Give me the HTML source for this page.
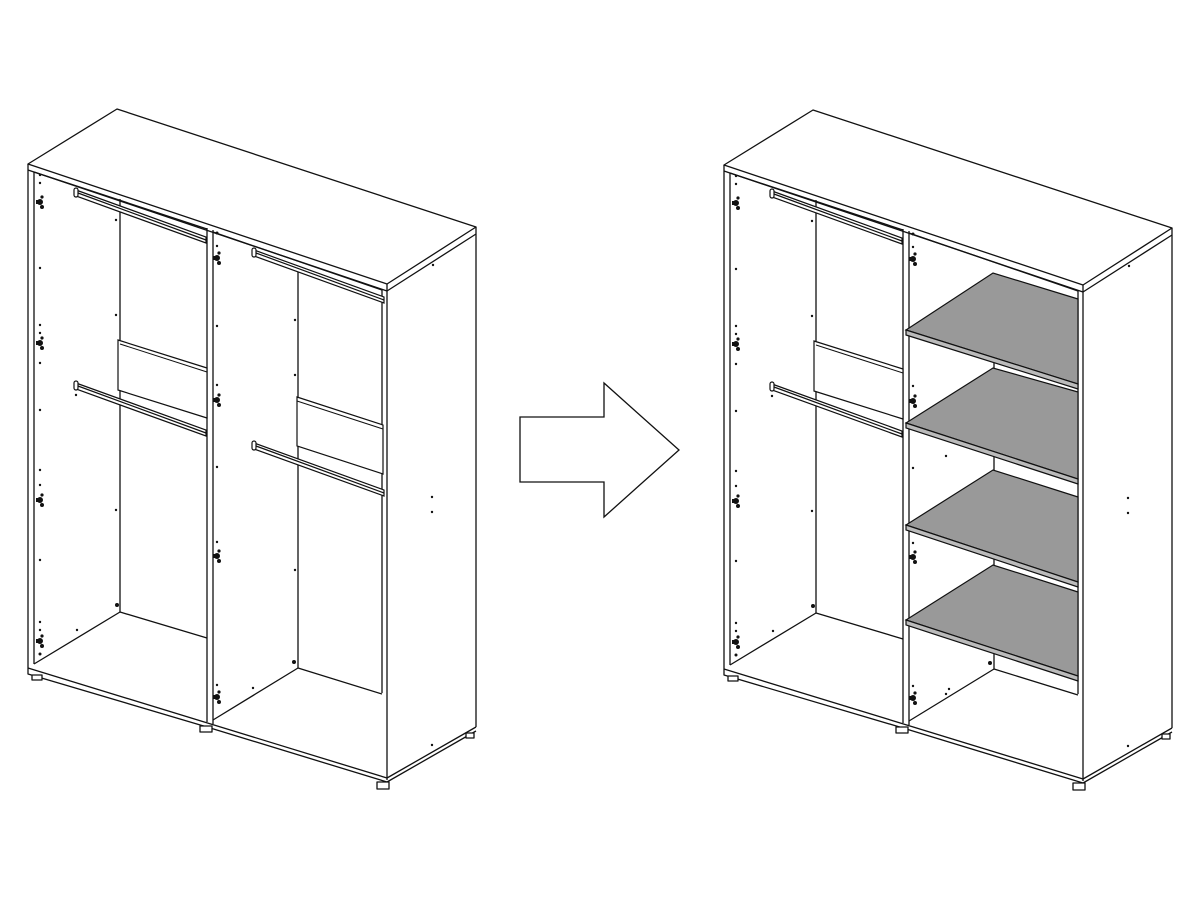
<!DOCTYPE html>
<html><head><meta charset="utf-8"><style>html,body{margin:0;padding:0;background:#fff}svg{display:block}</style></head><body>
<svg width="1200" height="900" viewBox="0 0 1200 900" xmlns="http://www.w3.org/2000/svg">
<defs>
<g id="base" fill="none" stroke="#111" stroke-width="1.3" stroke-linejoin="round">
  <!-- top -->
  <polygon points="28,164 117,109 476,227 387,284" fill="#fff"/>
  <line x1="28" y1="170" x2="387" y2="291"/>
  <line x1="387" y1="291" x2="476" y2="234"/>
  <!-- left side panel -->
  <line x1="28" y1="164" x2="28" y2="668"/>
  <line x1="34" y1="172" x2="34" y2="664"/>
  <!-- right side -->
  <line x1="387" y1="284" x2="387" y2="780"/>
  <line x1="382" y1="290" x2="382" y2="693"/>
  <line x1="476" y1="227" x2="476" y2="727"/>
  <!-- bottom plinth -->
  <polyline points="28,668 28,674 207,727 387,782"/>
  <line x1="28" y1="668" x2="387" y2="778"/>
  <line x1="387" y1="782" x2="476" y2="731"/>
  <line x1="387" y1="778" x2="476" y2="727"/>
  <!-- feet -->
  <rect x="32" y="675" width="10" height="5" fill="#fff"/>
  <rect x="200" y="726" width="12" height="6" fill="#fff"/>
  <rect x="377" y="782" width="12" height="7" fill="#fff"/>
  <rect x="466" y="733" width="8" height="5" fill="#fff"/>
  <!-- middle divider -->
  <line x1="207" y1="228" x2="207" y2="722"/>
  <line x1="213" y1="230" x2="213" y2="724"/>
  <!-- left compartment -->
  <line x1="120" y1="199" x2="120" y2="612"/>
  <line x1="120" y1="612" x2="34" y2="664"/>
  <line x1="120" y1="612" x2="207" y2="638"/>
  <line x1="34" y1="172" x2="207" y2="229"/>
</g>
<g id="hinge" fill="#111">
  <circle cx="0" cy="0" r="3"/><rect x="-4" y="-2" width="4" height="4"/><circle cx="2" cy="5" r="2"/><circle cx="2" cy="-5" r="1.6"/>
</g>
<g id="rail" fill="#fff" stroke="#111" stroke-width="1.2">
  <polygon points="0,0 130,47 130,53 0,6"/>
  <line x1="2" y1="3" x2="130" y2="50"/>
  <rect x="-2" y="-2" width="4" height="9" rx="2"/>
</g>
<g id="dots" fill="#111">
  <circle cx="40" cy="175" r="1.2"/><circle cx="40" cy="183" r="1.2"/><circle cx="40" cy="268" r="1.2"/><circle cx="40" cy="325" r="1.2"/><circle cx="40" cy="333" r="1.2"/><circle cx="40" cy="363" r="1.2"/><circle cx="40" cy="410" r="1.2"/><circle cx="40" cy="470" r="1.2"/><circle cx="40" cy="485" r="1.2"/><circle cx="40" cy="560" r="1.2"/><circle cx="40" cy="622" r="1.2"/><circle cx="40" cy="630" r="1.2"/><circle cx="40" cy="654" r="1.5"/>
  <circle cx="116" cy="220" r="1.2"/><circle cx="116" cy="315" r="1.2"/><circle cx="116" cy="510" r="1.2"/><circle cx="117" cy="605" r="2"/><circle cx="77" cy="630" r="1.2"/>
  <circle cx="76" cy="395" r="1.2"/>
</g>
<g id="wardrobe">
  <use href="#base"/>
  <use href="#dots"/>
  <use href="#hinge" x="40" y="202"/><use href="#hinge" x="40" y="343"/><use href="#hinge" x="40" y="500"/><use href="#hinge" x="40" y="641"/>
  <use href="#hinge" x="217" y="258"/><use href="#hinge" x="217" y="400"/><use href="#hinge" x="217" y="556"/><use href="#hinge" x="217" y="697"/>
  <g fill="#111"><circle cx="217" cy="233" r="1.5"/><circle cx="217" cy="246" r="1.2"/><circle cx="217" cy="326" r="1.2"/><circle cx="217" cy="385" r="1.2"/><circle cx="217" cy="467" r="1.2"/><circle cx="217" cy="542" r="1.2"/><circle cx="217" cy="685" r="1.2"/><circle cx="253" cy="688" r="1.2"/><circle cx="433" cy="265" r="1.2"/><circle cx="432" cy="497" r="1.2"/><circle cx="432" cy="512" r="1.2"/><circle cx="432" cy="745" r="1.2"/></g>
  <!-- left compartment drawer box and rails -->
  <polygon points="118,340 207,368 207,418 118,390" fill="#fff" stroke="#111" stroke-width="1.2"/>
  <line x1="120" y1="344" x2="207" y2="372" stroke="#111" stroke-width="1"/>
  <use href="#rail" x="76" y="190"/>
  <use href="#rail" x="76" y="383"/>
</g>
</defs>

<!-- Left wardrobe -->
<use href="#wardrobe"/>
<g fill="none" stroke="#111" stroke-width="1.3">
  <line x1="298" y1="272" x2="298" y2="668"/>
  <line x1="298" y1="668" x2="213" y2="720"/>
  <line x1="298" y1="668" x2="382" y2="694"/>
  <line x1="213" y1="232" x2="382" y2="290"/>
</g>
<g fill="#111"><circle cx="295" cy="320" r="1.2"/><circle cx="295" cy="375" r="1.2"/><circle cx="295" cy="570" r="1.2"/><circle cx="294" cy="662" r="2"/></g>
<polygon points="297,397 383,425 383,474 297,446" fill="#fff" stroke="#111" stroke-width="1.2"/>
<line x1="297" y1="401" x2="383" y2="429" stroke="#111" stroke-width="1"/>
<use href="#rail" x="254" y="250"/>
<use href="#rail" x="254" y="443"/>

<!-- Arrow -->
<polygon points="520,417 604,417 604,383 679,450 604,517 604,482 520,482" fill="#fff" stroke="#111" stroke-width="1.3"/>

<!-- Right wardrobe -->
<g transform="translate(696,1)">
  <use href="#wardrobe"/>
  <g fill="none" stroke="#111" stroke-width="1.3">
    <line x1="298" y1="272" x2="298" y2="668"/>
    <line x1="298" y1="668" x2="213" y2="720"/>
    <line x1="298" y1="668" x2="382" y2="694"/>
    <line x1="213" y1="232" x2="382" y2="290"/>
  </g>
  <g fill="#111"><circle cx="250" cy="455" r="1.2"/><circle cx="294" cy="662" r="2"/><circle cx="250" cy="693" r="1.2"/></g>
  <g stroke="#111" stroke-width="1.2">
    <g>
      <polygon points="210,329 297,272 382,298 382,383" fill="#999"/>
      <polygon points="210,329 382,383 382,388 210,334" fill="#bbb"/>
    </g>
    <g>
      <polygon points="210,422 297,367 382,391 382,478" fill="#999"/>
      <polygon points="210,422 382,478 382,483 210,427" fill="#bbb"/>
    </g>
    <g>
      <polygon points="210,524 297,469 382,496 382,581" fill="#999"/>
      <polygon points="210,524 382,581 382,586 210,529" fill="#bbb"/>
    </g>
    <g>
      <polygon points="210,619 297,564 382,591 382,675" fill="#999"/>
      <polygon points="210,619 382,675 382,680 210,624" fill="#bbb"/>
    </g>
  </g>
</g>
</svg>
</body></html>
